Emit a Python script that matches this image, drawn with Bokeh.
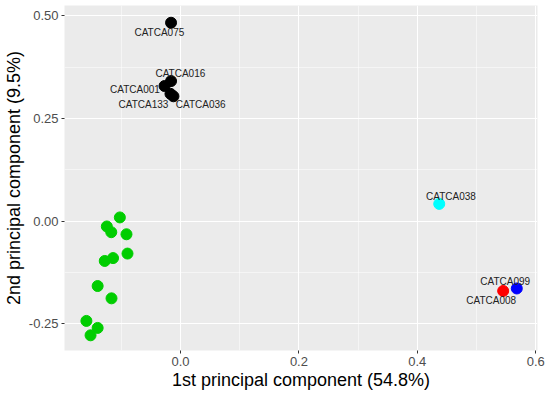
from bokeh.plotting import figure
from bokeh.models import ColumnDataSource, FixedTicker
from bokeh.core.properties import value
from bokeh.embed import file_html
from bokeh.resources import INLINE

# Labelled samples
lab_names = ["CATCA075", "CATCA016", "CATCA001", "CATCA133", "CATCA036", "CATCA038", "CATCA099", "CATCA008"]
lab_pc1 = [-0.016, -0.016, -0.027, -0.017, -0.012, 0.437, 0.568, 0.545]
lab_pc2 = [0.483, 0.341, 0.329, 0.310, 0.304, 0.042, -0.164, -0.170]
lab_colors = ["#000000", "#000000", "#000000", "#000000", "#000000", "#00FFFF", "#0000FF", "#FF0000"]
# label offsets (screen px) as repel-like placement
lab_dx = [-11.7, 9.3, -29.6, -27.0, 27.3, 11.7, -11.6, -11.9]
lab_dy = [10.0, -7.7, 3.7, 10.7, 8.3, -7.3, -7.0, 9.6]

# Unlabelled green group
grp_pc1 = [-0.1025, -0.1245, -0.117, -0.0913, -0.0896, -0.114, -0.128, -0.140, -0.1166, -0.159, -0.140, -0.152]
grp_pc2 = [0.009, -0.013, -0.027, -0.032, -0.079, -0.090, -0.097, -0.158, -0.188, -0.243, -0.260, -0.278]
grp_color = "#00CD00"

x_ticks = [0.0, 0.2, 0.4, 0.6]
x_tick_labels = ["0.0", "0.2", "0.4", "0.6"]
x_minor = [-0.1, 0.1, 0.3, 0.5]
y_ticks = [-0.25, 0.0, 0.25, 0.5]
y_tick_labels = ["-0.25", "0.00", "0.25", "0.50"]
y_minor = [-0.125, 0.125, 0.375]

x_title = "1st principal component (54.8%)"
y_title = "2nd principal component (9.5%)"

FONT = "Liberation Sans"

p = figure(width=550, height=395, output_backend="svg", toolbar_location=None,
           x_range=(-0.196, 0.603), y_range=(-0.315, 0.525),
           min_border_left=64, min_border_right=13, min_border_top=5, min_border_bottom=45,
           background_fill_color="#EBEBEB", border_fill_color="white", outline_line_color=None)

p.xaxis.ticker = FixedTicker(ticks=x_ticks, minor_ticks=x_minor)
p.yaxis.ticker = FixedTicker(ticks=y_ticks, minor_ticks=y_minor)
p.xaxis.major_label_overrides = {t: l for t, l in zip(x_ticks, x_tick_labels)}
p.yaxis.major_label_overrides = {t: l for t, l in zip(y_ticks, y_tick_labels)}

for ax in (p.xaxis, p.yaxis):
    ax.axis_line_color = None
    ax.major_tick_line_color = "#333333"
    ax.major_tick_in = 0
    ax.major_tick_out = 3
    ax.minor_tick_line_color = None
    ax.major_label_text_font = FONT
    ax.major_label_text_font_size = "13px"
    ax.major_label_text_color = "#4D4D4D"
    ax.major_label_standoff = 2
    ax.axis_label_text_font = FONT
    ax.axis_label_text_font_size = "18px"
    ax.axis_label_text_font_style = "normal"
    ax.axis_label_text_color = "black"
    ax.axis_label_standoff = 1

p.yaxis.major_label_standoff = 2
p.yaxis.axis_label_standoff = 2

p.xaxis.axis_label = x_title
p.yaxis.axis_label = y_title

p.grid.grid_line_color = "white"
p.grid.grid_line_width = 1.1
p.grid.minor_grid_line_color = "white"
p.grid.minor_grid_line_width = 0.5

grp = ColumnDataSource(dict(x=grp_pc1, y=grp_pc2))
p.scatter("x", "y", source=grp, size=11, fill_color=grp_color, line_color=grp_color)

lab = ColumnDataSource(dict(x=lab_pc1, y=lab_pc2, c=lab_colors, n=lab_names, dx=lab_dx, dy=lab_dy))
p.scatter("x", "y", source=lab, size=11, fill_color="c", line_color="c")
p.text("x", "y", text="n", source=lab, x_offset="dx", y_offset="dy",
       text_font=value(FONT), text_font_size="10px", text_color="#222222",
       text_align="center", text_baseline="middle")

open("out.html", "w").write(file_html(p, INLINE))
